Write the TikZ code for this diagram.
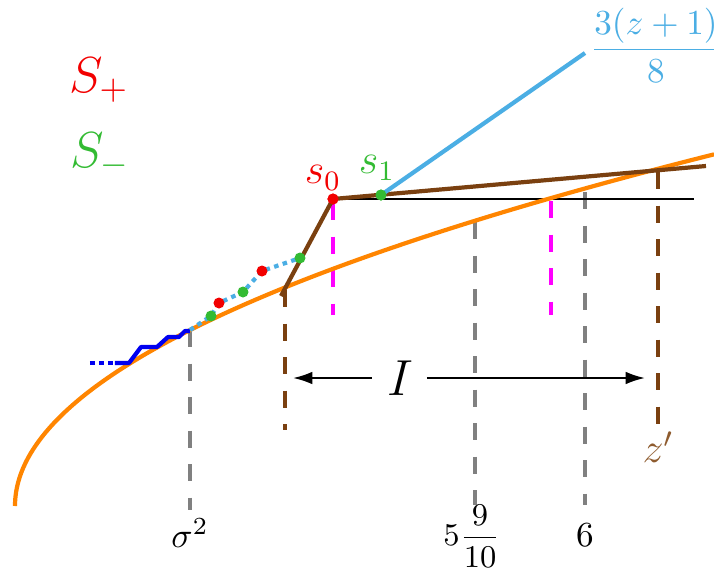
\documentclass[tikz,border=0pt]{standalone}
\usepackage{amsmath}
\usepackage{xcolor}
\usepackage{tikz}
\usetikzlibrary{arrows.meta}
\definecolor{curveorange}{HTML}{FF8500}
\definecolor{chordbrown}{HTML}{7A4010}
\definecolor{zlabelbrown}{HTML}{8E5B2E}
\definecolor{slopeblue}{HTML}{4BAEE4}
\definecolor{plusred}{HTML}{F20000}
\definecolor{minusgreen}{HTML}{33BB33}
\definecolor{markmagenta}{HTML}{FF00FF}
\definecolor{markgray}{HTML}{808080}
\definecolor{stairblue}{HTML}{0000F0}

\begin{document}
\begin{tikzpicture}[
  x=0.01cm,
  y=-0.01cm,
  line join=round,
  thickline/.style={
    line width=0.042cm
  },
  vdash/.style={
    line width=0.042cm,
    dash pattern=on 0.17cm off 0.165cm
  },
  dotline/.style={
    line width=0.042cm,
    dash pattern=on 0.045cm off 0.045cm
  },
  dot/.style={
    circle,
    inner sep=0pt,
    minimum size=0.11cm
  },
  arr/.style={
    -{Latex[length=5.5pt,width=3.6pt]},
    line width=0.6pt
  }
]
\useasboundingbox (0,0) rectangle (714,572);

% ------------------------------------------------------------
% Vertical markers
% ------------------------------------------------------------

\foreach \x/\top/\bot/\col in {190/330/510/markgray,
    475/222/505/markgray,585/192/505/markgray,
    333/203/315/markmagenta,551/201/315/markmagenta,
    285/290/430/chordbrown,658/172/425/chordbrown}{
  \draw[vdash,draw=\col] (\x,\top) -- (\x,\bot);
}

\draw[line width=0.5pt] (333,199) -- (694,199);

% ------------------------------------------------------------
% Curve, chord and slope line
% ------------------------------------------------------------

\draw[thickline,draw=curveorange]
  plot[domain=0:26.44,samples=120,smooth] ({15+\x*\x},{506-13.3*\x});

\node[dot,fill=plusred] (s0) at (333,199) {};
\node[dot,fill=minusgreen] (s1) at (381,195) {};
\coordinate (chordstart) at (281,296);
\coordinate (chordend) at (706,166);
\coordinate (slopeend) at (585,53);

\draw[thickline,draw=chordbrown]
  (chordstart) -- (s0.center) -- (chordend);

\draw[thickline,draw=slopeblue] (s1.center) -- (slopeend);

% staircase
\draw[dotline,draw=stairblue] (90,363) -- (115,363);
\draw[thickline,draw=stairblue]
  (115,363) -- (129,363) -- (141,347) -- (157,347)
  -- (168,337) -- (179,337) -- (185,331) -- (190,331);

\draw[dotline,draw=slopeblue]
  (190,330) -- (211,316) -- (219,303) -- (243,292)
  -- (262,271) -- (300,258);

\foreach \px/\py/\c in {211/316/minusgreen,219/303/plusred,
    243/292/minusgreen,262/271/plusred,300/258/minusgreen}{
  \node[dot,fill=\c] at (\px,\py) {};
}

\node[dot,fill=plusred] at (s0) {};
\node[dot,fill=minusgreen] at (s1) {};

% ------------------------------------------------------------
% Labels
% ------------------------------------------------------------

\node[text=plusred,font=\Large] (splus) at (99,80) {$S_+$};
\node[text=minusgreen,font=\Large] (sminus) at (100,155) {$S_-$};

\node[text=plusred,font=\large] (s0lab) at (323,178) {$s_0$};
\node[text=minusgreen,font=\large] (s1lab) at (377,168) {$s_1$};

\node[text=slopeblue] (slopelab) at (656,45) {$\dfrac{3(z+1)}{8}$};

\node (sigmalab) at (190,533) {$\sigma^2$};
\node[font=\small] (fivelab) at (472,536) {$5\dfrac{9}{10}$};
\node (sixlab) at (585,535) {$6$};
\node[text=zlabelbrown,font=\large] (zlab) at (658,447) {$z'$};

\node[font=\Large,inner sep=0pt] (ilab) at (400,378) {$I$};
\coordinate (ileft) at (293,378);
\coordinate (iright) at (645,378);
\draw[arr] (372,378) -- (ileft);
\draw[arr] (427,378) -- (iright);
\end{tikzpicture}
\end{document}
